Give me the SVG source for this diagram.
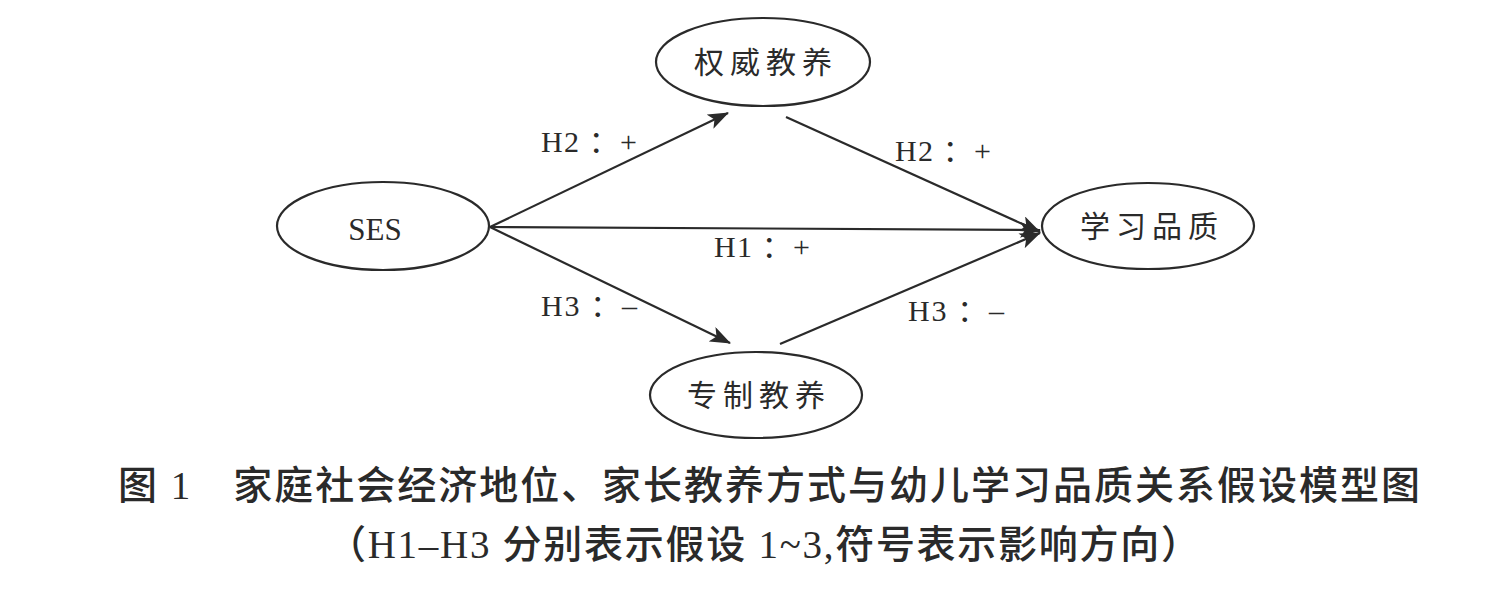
<svg xmlns="http://www.w3.org/2000/svg" width="1486" height="598" viewBox="0 0 1486 598">
<style>
.node ellipse{fill:#fff;stroke:#2a2a2a;stroke-width:2.2}
.ntext{font-family:"Noto Sans CJK SC",sans-serif;font-size:30px;fill:#2a2a2a;text-anchor:middle;letter-spacing:6px}
.lat{font-family:"Liberation Serif",serif;font-size:31px;fill:#2a2a2a;text-anchor:middle}
.edge{stroke:#2a2a2a;stroke-width:2.2;fill:none;marker-end:url(#ah)}
.lbl{font-family:"Liberation Serif","Noto Sans CJK SC",serif;font-size:30px;fill:#2a2a2a}
.cap{font-family:"Liberation Serif","Noto Sans CJK SC",sans-serif;font-size:39px;fill:#2a2a2a;font-weight:500}
.cap .l{font-weight:normal}
</style>
<defs>
<marker id="ah" markerUnits="userSpaceOnUse" markerWidth="22" markerHeight="16" viewBox="0 0 22 16" refX="20" refY="8" orient="auto">
<path d="M0,0 L21,8 L0,16 L5,8 z" fill="#2a2a2a"/>
</marker>
</defs>
<rect width="1486" height="598" fill="#fff"/>
<g id="connectors">
<line class="edge" x1="490" y1="227" x2="728" y2="113"/>
<line class="edge" x1="490" y1="227" x2="730" y2="343"/>
<line class="edge" x1="490" y1="227" x2="1040" y2="230"/>
<line class="edge" x1="786" y1="117" x2="1040" y2="232"/>
<line class="edge" x1="780" y1="344" x2="1040" y2="233"/>
</g>
<g id="labels">
<text class="lbl" x="541" y="152" textLength="96" lengthAdjust="spacing">H2 ：+</text>
<text class="lbl" x="895" y="161" textLength="96" lengthAdjust="spacing">H2 ：+</text>
<text class="lbl" x="714" y="257" textLength="96" lengthAdjust="spacing">H1 ：+</text>
<text class="lbl" x="541" y="316" textLength="96" lengthAdjust="spacing">H3 ：–</text>
<text class="lbl" x="908" y="321" textLength="96" lengthAdjust="spacing">H3 ：–</text>
</g>
<g id="n-authoritative" class="node">
<ellipse cx="763" cy="62" rx="107" ry="44"/>
<text class="ntext" x="766" y="73">权威教养</text>
</g>
<g id="n-ses" class="node">
<ellipse cx="383" cy="226" rx="106" ry="44"/>
<text class="lat" x="375" y="240">SES</text>
</g>
<g id="n-quality" class="node">
<ellipse cx="1148" cy="226" rx="106" ry="43"/>
<text class="ntext" x="1152" y="237">学习品质</text>
</g>
<g id="n-authoritarian" class="node">
<ellipse cx="756" cy="395" rx="106" ry="43"/>
<text class="ntext" x="759" y="406">专制教养</text>
</g>
<g id="caption">
<text class="cap" x="118" y="499" textLength="1302" lengthAdjust="spacing">图 <tspan class="l">1</tspan>　家庭社会经济地位、家长教养方式与幼儿学习品质关系假设模型图</text>
<text class="cap" x="327" y="558" textLength="873" lengthAdjust="spacing">（<tspan class="l">H1–H3</tspan> 分别表示假设 <tspan class="l">1~3</tspan>,符号表示影响方向）</text>
</g>
</svg>
